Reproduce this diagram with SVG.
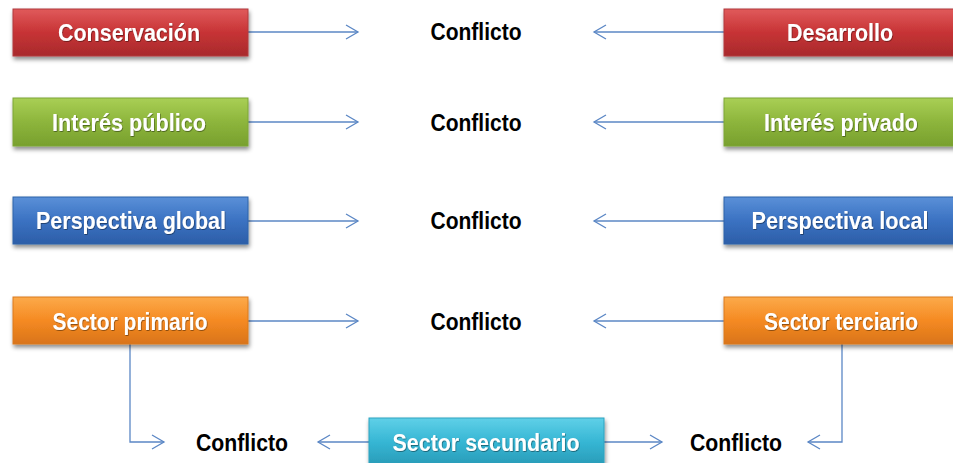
<svg xmlns="http://www.w3.org/2000/svg" width="953" height="463" viewBox="0 0 953 463">
<defs>
<style>
.box{stroke-width:1}
.bt{font-family:"Liberation Sans Narrow","Liberation Sans",Arial,sans-serif;font-weight:bold;font-size:24px;fill:#fff;text-anchor:middle}
.ct{font-family:"Liberation Sans Narrow","Liberation Sans",Arial,sans-serif;font-weight:bold;font-size:24px;fill:#000;text-anchor:middle}
.ln{fill:none;stroke:#5b87c5;stroke-width:1.3}
</style>
<marker id="ah" markerWidth="16" markerHeight="16" refX="13" refY="8" orient="auto" markerUnits="userSpaceOnUse">
<path d="M1,1 L13,8 L1,15" fill="none" stroke="#5b87c5" stroke-width="1.3"/>
</marker>
<filter id="sh" x="-10%" y="-20%" width="120%" height="160%">
<feDropShadow dx="1" dy="3" stdDeviation="2" flood-color="#000" flood-opacity="0.45"/>
</filter>
<filter id="ts" x="-5%" y="-20%" width="110%" height="140%">
<feDropShadow dx="0.6" dy="0.8" stdDeviation="0.6" flood-color="#000" flood-opacity="0.5"/>
</filter>
<linearGradient id="gr" x1="0" y1="0" x2="0" y2="1"><stop offset="0" stop-color="#e05a5b"/><stop offset="0.5" stop-color="#c73335"/><stop offset="1" stop-color="#a82a2c"/></linearGradient>
<linearGradient id="gg" x1="0" y1="0" x2="0" y2="1"><stop offset="0" stop-color="#a9cf55"/><stop offset="0.5" stop-color="#8db53c"/><stop offset="1" stop-color="#78a02e"/></linearGradient>
<linearGradient id="gb" x1="0" y1="0" x2="0" y2="1"><stop offset="0" stop-color="#5a90d8"/><stop offset="0.5" stop-color="#3b72c2"/><stop offset="1" stop-color="#2c5ea8"/></linearGradient>
<linearGradient id="go" x1="0" y1="0" x2="0" y2="1"><stop offset="0" stop-color="#fcaa4a"/><stop offset="0.5" stop-color="#f58a22"/><stop offset="1" stop-color="#d9741a"/></linearGradient>
<linearGradient id="gc" x1="0" y1="0" x2="0" y2="1"><stop offset="0" stop-color="#5fd0e8"/><stop offset="0.5" stop-color="#35b5d3"/><stop offset="1" stop-color="#2898b4"/></linearGradient>
</defs>
<rect width="953" height="463" fill="#fff"/>
<g id="connectors">
<line class="ln" x1="248" y1="32" x2="358" y2="32" marker-end="url(#ah)"/>
<line class="ln" x1="724" y1="32" x2="594" y2="32" marker-end="url(#ah)"/>
<line class="ln" x1="248" y1="122" x2="358" y2="122" marker-end="url(#ah)"/>
<line class="ln" x1="724" y1="122" x2="594" y2="122" marker-end="url(#ah)"/>
<line class="ln" x1="248" y1="221" x2="358" y2="221" marker-end="url(#ah)"/>
<line class="ln" x1="724" y1="221" x2="594" y2="221" marker-end="url(#ah)"/>
<line class="ln" x1="248" y1="321" x2="358" y2="321" marker-end="url(#ah)"/>
<line class="ln" x1="724" y1="321" x2="594" y2="321" marker-end="url(#ah)"/>
<polyline class="ln" points="130,344 130,442 164,442" marker-end="url(#ah)"/>
<polyline class="ln" points="842,344 842,442 808,442" marker-end="url(#ah)"/>
<line class="ln" x1="369" y1="442" x2="318" y2="442" marker-end="url(#ah)"/>
<line class="ln" x1="604" y1="442" x2="662" y2="442" marker-end="url(#ah)"/>
</g>
<g id="conservacion"><rect class="box" x="13" y="9" width="235" height="47" fill="url(#gr)" stroke="#b03a3c" filter="url(#sh)"/><text class="bt" x="129" y="41" textLength="142" lengthAdjust="spacingAndGlyphs" filter="url(#ts)">Conservación</text></g>
<g id="desarrollo"><rect class="box" x="724" y="9" width="240" height="47" fill="url(#gr)" stroke="#b03a3c" filter="url(#sh)"/><text class="bt" x="840" y="41" textLength="106" lengthAdjust="spacingAndGlyphs" filter="url(#ts)">Desarrollo</text></g>
<g id="interes-publico"><rect class="box" x="13" y="98" width="235" height="48" fill="url(#gg)" stroke="#7da636" filter="url(#sh)"/><text class="bt" x="129" y="131" textLength="154" lengthAdjust="spacingAndGlyphs" filter="url(#ts)">Interés público</text></g>
<g id="interes-privado"><rect class="box" x="724" y="98" width="240" height="48" fill="url(#gg)" stroke="#7da636" filter="url(#sh)"/><text class="bt" x="841" y="131" textLength="154" lengthAdjust="spacingAndGlyphs" filter="url(#ts)">Interés privado</text></g>
<g id="perspectiva-global"><rect class="box" x="13" y="197" width="235" height="47" fill="url(#gb)" stroke="#2f62a8" filter="url(#sh)"/><text class="bt" x="131" y="229" textLength="190" lengthAdjust="spacingAndGlyphs" filter="url(#ts)">Perspectiva global</text></g>
<g id="perspectiva-local"><rect class="box" x="724" y="197" width="240" height="47" fill="url(#gb)" stroke="#2f62a8" filter="url(#sh)"/><text class="bt" x="840" y="229" textLength="177" lengthAdjust="spacingAndGlyphs" filter="url(#ts)">Perspectiva local</text></g>
<g id="sector-primario"><rect class="box" x="13" y="297" width="235" height="47" fill="url(#go)" stroke="#d97a1f" filter="url(#sh)"/><text class="bt" x="130" y="330" textLength="155" lengthAdjust="spacingAndGlyphs" filter="url(#ts)">Sector primario</text></g>
<g id="sector-terciario"><rect class="box" x="724" y="297" width="240" height="47" fill="url(#go)" stroke="#d97a1f" filter="url(#sh)"/><text class="bt" x="841" y="330" textLength="154" lengthAdjust="spacingAndGlyphs" filter="url(#ts)">Sector terciario</text></g>
<g id="sector-secundario"><rect class="box" x="369" y="418" width="235" height="50" fill="url(#gc)" stroke="#2ea3c0" filter="url(#sh)"/><text class="bt" x="486" y="451" textLength="187" lengthAdjust="spacingAndGlyphs" filter="url(#ts)">Sector secundario</text></g>
<g id="conflicto-1"><text class="ct" x="476" y="40" textLength="91" lengthAdjust="spacingAndGlyphs">Conflicto</text></g>
<g id="conflicto-2"><text class="ct" x="476" y="131" textLength="91" lengthAdjust="spacingAndGlyphs">Conflicto</text></g>
<g id="conflicto-3"><text class="ct" x="476" y="229" textLength="91" lengthAdjust="spacingAndGlyphs">Conflicto</text></g>
<g id="conflicto-4"><text class="ct" x="476" y="330" textLength="91" lengthAdjust="spacingAndGlyphs">Conflicto</text></g>
<g id="conflicto-5"><text class="ct" x="242" y="451" textLength="92" lengthAdjust="spacingAndGlyphs">Conflicto</text></g>
<g id="conflicto-6"><text class="ct" x="736" y="451" textLength="92" lengthAdjust="spacingAndGlyphs">Conflicto</text></g>
</svg>
